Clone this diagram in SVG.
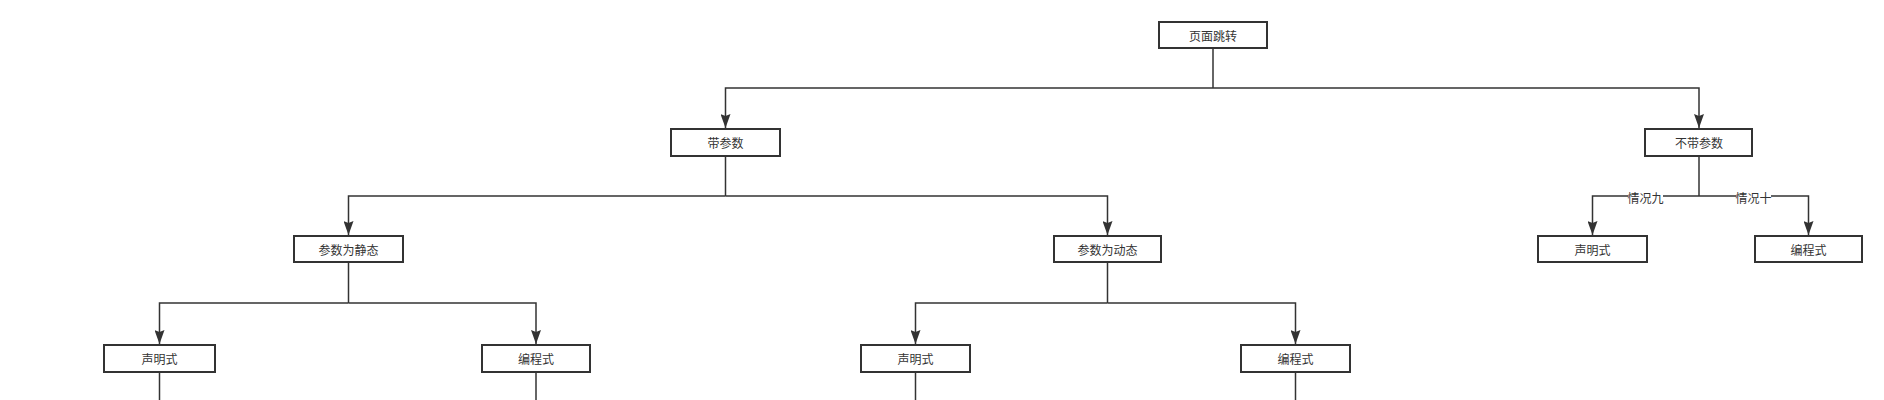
<svg xmlns="http://www.w3.org/2000/svg" width="1884" height="400" viewBox="0 0 1884 400">
<style>
.box{fill:#fff;stroke:#333;stroke-width:2}
.t{font-family:"Noto Sans CJK SC","Liberation Sans",sans-serif;font-size:12px;fill:#333;text-anchor:middle;dominant-baseline:central}
.e{fill:none;stroke:#333;stroke-width:1.5}
.lb{fill:#fff}
</style>
<defs>
<marker id="arr" markerWidth="14" markerHeight="10" refX="14" refY="5" orient="auto" markerUnits="userSpaceOnUse" viewBox="0 0 14 10">
<path d="M0,0 L14,5 L0,10 L2,5 Z" fill="#333"/>
</marker>
</defs>
<rect width="1884" height="400" fill="#fff"/>
<g id="connectors">
<path class="e" d="M1213,48 V88"/>
<path class="e" d="M1213,88 H725.5 V128" marker-end="url(#arr)"/>
<path class="e" d="M1213,88 H1699 V128" marker-end="url(#arr)"/>
<path class="e" d="M725.5,156 V196"/>
<path class="e" d="M725.5,196 H348.5 V235" marker-end="url(#arr)"/>
<path class="e" d="M725.5,196 H1107.5 V235" marker-end="url(#arr)"/>
<path class="e" d="M348.5,262 V303"/>
<path class="e" d="M348.5,303 H159.5 V344" marker-end="url(#arr)"/>
<path class="e" d="M348.5,303 H536 V344" marker-end="url(#arr)"/>
<path class="e" d="M1107.5,262 V303"/>
<path class="e" d="M1107.5,303 H915.5 V344" marker-end="url(#arr)"/>
<path class="e" d="M1107.5,303 H1295.5 V344" marker-end="url(#arr)"/>
<path class="e" d="M159.5,372 V400"/>
<path class="e" d="M536,372 V400"/>
<path class="e" d="M915.5,372 V400"/>
<path class="e" d="M1295.5,372 V400"/>
<path class="e" d="M1699,156 V196"/>
<path class="e" d="M1699,196 H1592.5 V235" marker-end="url(#arr)"/>
<path class="e" d="M1699,196 H1808.5 V235" marker-end="url(#arr)"/>
<rect class="lb" x="1628" y="189" width="35" height="14"/>
<text class="t" x="1645.5" y="197">情况九</text>
<rect class="lb" x="1736" y="189" width="35" height="14"/>
<text class="t" x="1753.5" y="197">情况十</text>
</g>
<g id="n-root"><rect class="box" x="1159" y="22" width="108" height="26"/><text class="t" x="1213" y="35">页面跳转</text></g>
<g id="n-with"><rect class="box" x="671" y="129" width="109" height="27"/><text class="t" x="725.5" y="142.5">带参数</text></g>
<g id="n-without"><rect class="box" x="1645" y="129" width="107" height="27"/><text class="t" x="1699" y="142.5">不带参数</text></g>
<g id="n-static"><rect class="box" x="294" y="236" width="109" height="26"/><text class="t" x="348.5" y="249">参数为静态</text></g>
<g id="n-dynamic"><rect class="box" x="1054" y="236" width="107" height="26"/><text class="t" x="1107.5" y="249">参数为动态</text></g>
<g id="n-s-decl"><rect class="box" x="104" y="345" width="111" height="27"/><text class="t" x="159.5" y="358.5">声明式</text></g>
<g id="n-s-prog"><rect class="box" x="482" y="345" width="108" height="27"/><text class="t" x="536" y="358.5">编程式</text></g>
<g id="n-d-decl"><rect class="box" x="861" y="345" width="109" height="27"/><text class="t" x="915.5" y="358.5">声明式</text></g>
<g id="n-d-prog"><rect class="box" x="1241" y="345" width="109" height="27"/><text class="t" x="1295.5" y="358.5">编程式</text></g>
<g id="n-n-decl"><rect class="box" x="1538" y="236" width="109" height="26"/><text class="t" x="1592.5" y="249">声明式</text></g>
<g id="n-n-prog"><rect class="box" x="1755" y="236" width="107" height="26"/><text class="t" x="1808.5" y="249">编程式</text></g>
</svg>
